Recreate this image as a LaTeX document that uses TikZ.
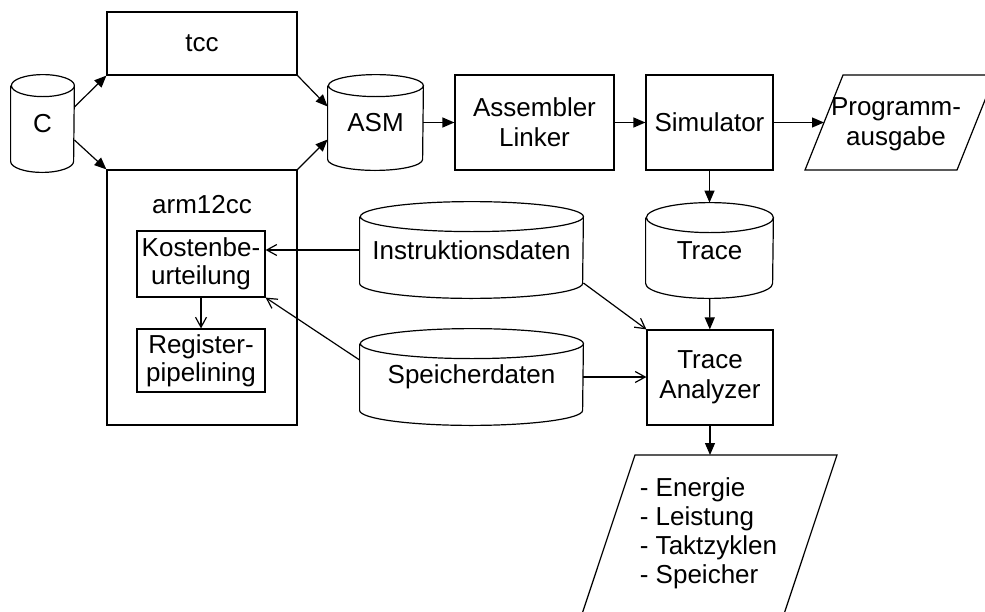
\documentclass[tikz,border=0pt]{standalone}
\usepackage{fontspec}
\setmainfont{Liberation Sans}
\usetikzlibrary{arrows.meta}

\begin{document}
\begin{tikzpicture}[x = 0.5pt, y = -0.5pt]
\tikzstyle{TextStyle} = [font = \fontsize{13}{15}\selectfont, align = center]
\tikzstyle{boxStyle} = [TextStyle, shape = rectangle, draw, line width = 0.6pt, inner sep = 0pt]
\tikzstyle{smallBoxStyle} = [boxStyle, font = \fontsize{13}{14}\selectfont]
\tikzstyle{dbStyle} = [TextStyle, shape = rectangle, inner sep = 0pt]
\tikzstyle{lineStyle} = [line width = 0.6pt, line join = miter]
\tikzstyle{flowStyle} = [line width = 0.6pt, -{Triangle[length = 6pt, width = 5pt]}]
\tikzstyle{dataStyle} = [line width = 0.6pt, -{Straight Barb[length = 5pt, width = 5.5pt]}]
\useasboundingbox (0,0) rectangle (985,611);
\clip (0,0) rectangle (985,611);
\node[dbStyle, minimum width = 31.5pt, minimum height = 48.5pt] (C) at (42.5,123.5) {C};
\node[boxStyle, minimum width = 95pt, minimum height = 31.5pt] (tcc) at (202,43.5) {tcc};
\node[boxStyle, minimum width = 95pt, minimum height = 127.5pt] (arm12cc) at (202,297.5) {};
\node[TextStyle] (armLabel) at (202,205) {arm12cc};
\node[smallBoxStyle, minimum width = 64pt, minimum height = 33pt] (Kosten) at (201,264) {Kostenbe-\\urteilung};
\node[smallBoxStyle, minimum width = 64pt, minimum height = 31.5pt] (Register) at (201,360.5) {Register-\\pipelining};
\node[dbStyle, minimum width = 47.5pt, minimum height = 47.5pt] (ASM) at (375.5,122.5) {ASM};
\node[boxStyle, minimum width = 79.5pt, minimum height = 47.5pt] (AL) at (534.5,122.5) {Assembler\\Linker};
\node[boxStyle, minimum width = 63.5pt, minimum height = 47.5pt] (Sim) at (709.5,122.5) {Simulator};
\node[TextStyle] (Prog) at (896,124) {Programm-\\ausgabe};
\draw[lineStyle] (805,170) -- (957,170) -- (995,75) -- (843,75) -- cycle;
\coordinate (progIn) at (824,122.5);
\node[dbStyle, minimum width = 63.5pt, minimum height = 47.5pt] (Trace) at (709.5,250.5) {Trace};
\node[dbStyle, minimum width = 111.5pt, minimum height = 48pt] (Instr) at (471.5,250) {Instruktionsdaten};
\node[dbStyle, minimum width = 111.5pt, minimum height = 48pt] (Speicher) at (471.5,377) {Speicherdaten};
\node[boxStyle, minimum width = 63pt, minimum height = 47.5pt] (TA) at (710,377.5) {Trace\\Analyzer};
\node[TextStyle, align = left, font = \fontsize{13}{14.5}\selectfont] (Out) at (708.5,533) {- Energie\\- Leistung\\- Taktzyklen\\- Speicher};
\draw[lineStyle] (581.7,615) -- (635,455) -- (837,455) -- (783.7,615) -- cycle;
\coordinate (outIn) at (736,455);
\foreach \db/\rx/\ry in {C/15.75pt/5.5pt, ASM/23.75pt/5.5pt, Trace/31.75pt/7.5pt, Instr/55.75pt/7.5pt, Speicher/55.75pt/7.5pt}
  \draw[lineStyle] ([yshift = -\ry]\db.north west) -- ([yshift = \ry]\db.south west)
    arc[start angle = 180, end angle = 360, x radius = \rx, y radius = \ry]
    -- ([yshift = -\ry]\db.north east)
    arc[start angle = 0, end angle = 180, x radius = \rx, y radius = \ry]
    arc[start angle = 180, end angle = 360, x radius = \rx, y radius = \ry];
\draw[flowStyle] ([yshift = 8.25pt]C.east) -- (tcc.south west);
\draw[flowStyle] ([yshift = -8.25pt]C.east) -- (arm12cc.north west);
\draw[flowStyle] (tcc.south east) -- ([yshift = 8pt]ASM.west);
\draw[flowStyle] (arm12cc.north east) -- ([yshift = -8.5pt]ASM.west);
\draw[flowStyle] (ASM) -- (AL);
\draw[flowStyle] (AL) -- (Sim);
\draw[flowStyle] (Sim.east) -- (progIn);
\draw[flowStyle] (Sim) -- (Trace);
\draw[flowStyle] (Trace) -- (TA);
\draw[flowStyle] (TA.south) -- (TA.south |- outIn);
\draw[dataStyle] (Instr.west) -- (Instr.west -| Kosten.east);
\draw[dataStyle] ([yshift = 8.5pt]Speicher.west) -- (Kosten.south east);
\draw[dataStyle] (Kosten) -- (Register);
\draw[dataStyle] ([yshift = -16.5pt]Instr.east) -- (TA.north west);
\draw[dataStyle] (Speicher.east) -- (Speicher.east -| TA.west);
\end{tikzpicture}
\end{document}
